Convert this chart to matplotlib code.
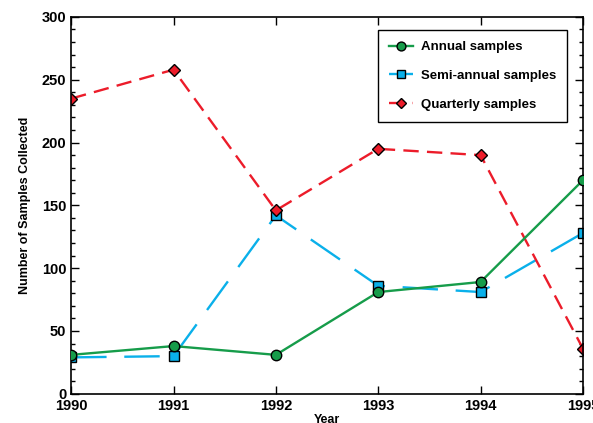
import matplotlib.pyplot as plt
from matplotlib.ticker import MultipleLocator

years = [1990, 1991, 1992, 1993, 1994, 1995]
annual = [31, 38, 31, 81, 89, 170]
semi_annual = [29, 30, 142, 86, 81, 128]
quarterly = [235, 258, 146, 195, 190, 36]

plt.rcParams['font.family'] = ['Liberation Sans', 'DejaVu Sans']
plt.rcParams['font.weight'] = 'bold'

fig = plt.figure(figsize=(5.93, 4.23), dpi=100)
ax = fig.add_axes([0.12, 0.069, 0.863, 0.891])

ax.plot(years, annual, color='#169c4a', lw=1.7, marker='o', ms=7.5,
        mfc='#169c4a', mec='black', mew=1, label='Annual samples', zorder=3)
ax.plot(years, semi_annual, color='#0ab0ea', lw=1.7, dashes=(15, 7.5), marker='s', ms=7.5,
        mfc='#0ab0ea', mec='black', mew=1, label='Semi-annual samples', zorder=2)
ax.plot(years, quarterly, color='#ec1c2a', lw=1.7, dashes=(6.5, 3.5), marker='D', ms=6,
        mfc='#ec1c2a', mec='black', mew=1, label='Quarterly samples', zorder=2)

ax.set_xlim(1990, 1995)
ax.set_ylim(0, 300)
ax.xaxis.set_major_locator(MultipleLocator(1))
ax.yaxis.set_major_locator(MultipleLocator(50))
ax.yaxis.set_minor_locator(MultipleLocator(10))
ax.tick_params(which='both', direction='in', top=True, right=True, labelsize=10.5)
ax.tick_params(which='major', length=6, width=1)
ax.tick_params(which='minor', length=3, width=1)
for s in ax.spines.values():
    s.set_linewidth(1.2)

ax.set_xlabel('Year', fontsize=9, fontweight='bold', labelpad=1)
ax.set_ylabel('Number of Samples Collected', fontsize=9, fontweight='bold', labelpad=8)

leg = ax.legend(loc='upper right', bbox_to_anchor=(0.969, 0.966), fontsize=9.5,
                fancybox=False, framealpha=1, edgecolor='black', handlelength=1.8,
                handletextpad=0.6, labelspacing=1.25, borderpad=0.85, markerscale=0.85,
                borderaxespad=0)
leg.get_frame().set_linewidth(1)

fig.savefig('out.png', dpi=100)
